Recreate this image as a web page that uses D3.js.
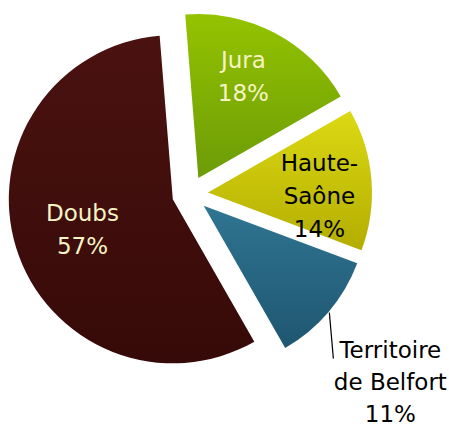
<!DOCTYPE html>
<html>
<head>
<meta charset="utf-8">
<script src="https://cdn.jsdelivr.net/npm/d3@7"></script>
<style>
  html, body { margin: 0; padding: 0; background: #ffffff; }
  svg { display: block; }
</style>
</head>
<body>
<div id="chart"></div>
<script>
// Population share of the Franche-Comté départements
const categories = ["Jura", "Haute-Saône", "Territoire de Belfort", "Doubs"];
const values = [18, 14, 11, 57];
const nameLines = [["Jura"], ["Haute-", "Saône"], ["Territoire", "de Belfort"], ["Doubs"]];

// Slice fills: top and bottom colours of each vertical gradient
const topColors = ["#94c300", "#dcd914", "#2f7592", "#4a1210"];
const bottomColors = ["#6c9b08", "#b3ad00", "#1f5670", "#360a08"];
const labelColors = ["#f6f3c4", "#000000", "#000000", "#f6f3c4"];

const width = 449, height = 427;
const cx = 190, cy = 194, radius = 164, explode = 18;
const startDeg = -4.6;
const fontSize = 23, lineHeight = 33;

// inside-label placement: distance from slice centre (fraction of radius) and angular nudge (deg)
const labelPlace = {
  "Jura": { r: 0.68, shift: -4 },
  "Haute-Saône": { r: 0.68, shift: 6 },
  "Doubs": { r: 0.58, shift: -1 }
};

const data = categories.map((c, i) => ({ name: c, value: values[i], lines: nameLines[i], i }));

const svg = d3.select("#chart").append("svg")
  .attr("width", width).attr("height", height)
  .attr("viewBox", `0 0 ${width} ${height}`);

const defs = svg.append("defs");
data.forEach(d => {
  const g = defs.append("linearGradient")
    .attr("id", "grad" + d.i)
    .attr("x1", 0).attr("y1", 0).attr("x2", 0).attr("y2", 1);
  g.append("stop").attr("offset", "0%").attr("stop-color", topColors[d.i]);
  g.append("stop").attr("offset", "100%").attr("stop-color", bottomColors[d.i]);
});

const start = startDeg * Math.PI / 180;
const pie = d3.pie().sort(null).value(d => d.value)
  .startAngle(start).endAngle(start + 2 * Math.PI);
const arc = d3.arc().innerRadius(0).outerRadius(radius);

const arcs = pie(data).map(a => {
  const mid = (a.startAngle + a.endAngle) / 2;
  a.mid = mid;
  a.ox = cx + Math.sin(mid) * explode;
  a.oy = cy - Math.cos(mid) * explode;
  return a;
});

const slices = svg.append("g").selectAll("g.slice").data(arcs).join("g")
  .attr("class", "slice")
  .attr("transform", a => `translate(${a.ox},${a.oy})`);

slices.append("path")
  .attr("d", arc)
  .attr("fill", a => `url(#grad${a.data.i})`);

const font = "'DejaVu Sans', Verdana, sans-serif";

function drawLines(sel, lines, x, firstBaseline, color, lh) {
  const t = sel.append("text")
    .attr("text-anchor", "middle")
    .attr("font-family", font)
    .attr("font-size", fontSize)
    .attr("fill", color);
  lines.forEach((ln, k) => {
    t.append("tspan").attr("x", x).attr("y", firstBaseline + k * lh).text(ln);
  });
}

const labels = svg.append("g");
arcs.forEach(a => {
  const d = a.data;
  const lines = d.lines.concat([d.value + "%"]);
  const place = labelPlace[d.name];
  if (place) {
    const ang = a.mid + place.shift * Math.PI / 180;
    const px = a.ox + Math.sin(ang) * radius * place.r;
    const py = a.oy - Math.cos(ang) * radius * place.r;
    const first = py - (lines.length - 1) * lineHeight / 2 + fontSize * 0.36;
    drawLines(labels, lines, px, first, labelColors[d.i], lineHeight);
  } else {
    // outside label with a leader line from the slice edge
    const sx = a.ox + Math.sin(a.mid) * (radius + 1);
    const sy = a.oy - Math.cos(a.mid) * (radius + 1);
    const ex = sx + 4, ey = sy + 46;
    labels.append("line")
      .attr("x1", sx).attr("y1", sy).attr("x2", ex).attr("y2", ey)
      .attr("stroke", "#000").attr("stroke-width", 1.2);
    drawLines(labels, lines, ex + 57, ey - 1, labelColors[d.i], lineHeight - 1);
  }
});
</script>
</body>
</html>
